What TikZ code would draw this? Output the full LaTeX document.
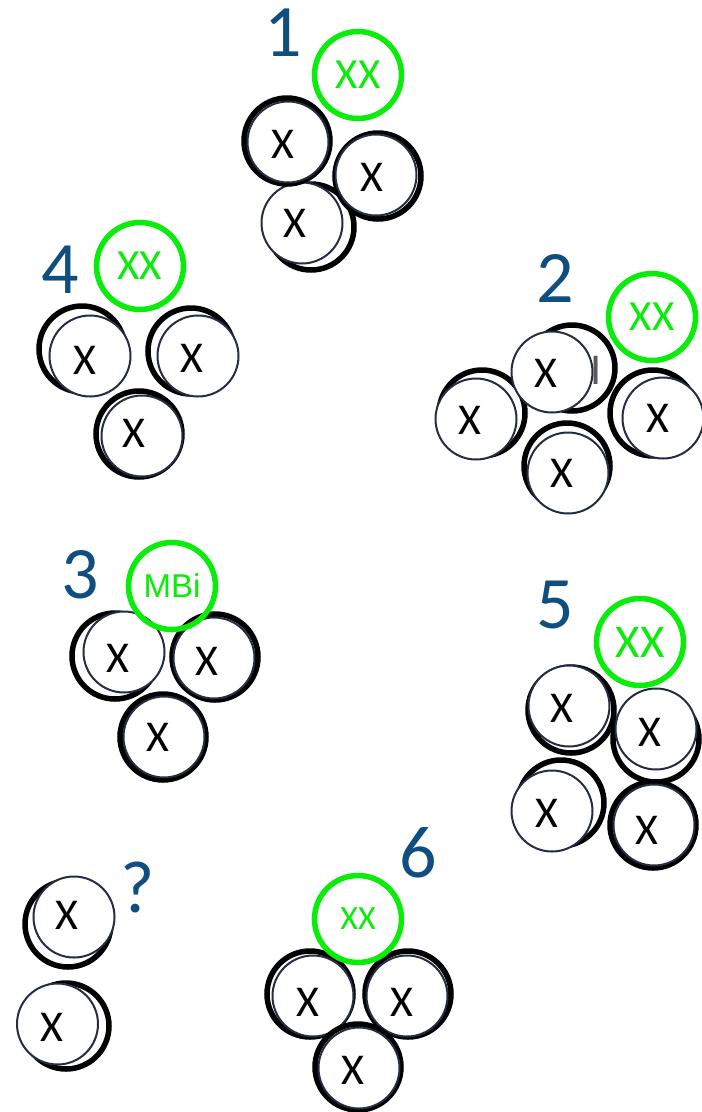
\documentclass[tikz,border=0pt]{standalone}
\usepackage{fontspec}
\setmainfont{Carlito}
\newfontfamily\mbifont{Liberation Sans}
\definecolor{labelblue}{RGB}{16,78,128}
\definecolor{rimnavy}{RGB}{38,44,66}
\definecolor{tokengreen}{RGB}{10,236,10}
\definecolor{grayink}{RGB}{90,90,90}
\tikzset{
  ring/.style={circle,draw=black,line width=5.5pt,minimum size=86pt,inner sep=0pt},
  face/.style={circle,draw=rimnavy,fill=white,line width=2pt,minimum size=81pt,inner sep=0pt},
  xtext/.style={inner sep=0pt,font=\fontsize{44}{44}\selectfont},
  token/.style={circle,draw=tokengreen,line width=5.5pt,minimum size=87pt,inner sep=0pt,
    text=tokengreen,font=\fontsize{43}{43}\selectfont},
  groupnum/.style={text=labelblue,inner sep=0pt,font=\fontsize{74}{74}\selectfont},
}
% one coin: black rim, white face with navy edge, letter X
% #1 name, #2 rim centre, #3 face centre, #4 letter position
\newcommand\drawcoin[4]{%
  \node[ring] (#1r) at (#2) {};
  \node[face] (#1f) at (#3) {};
  \node[xtext] (#1) at (#4) {X};
}
\begin{document}
\begin{tikzpicture}[x=1pt,y=-1pt]
\fill[white] (0,0) rectangle (702,1112);
\useasboundingbox (0,0) rectangle (702,1112);

% group 1
\node[groupnum] (n1) at (283,33) {1};
\drawcoin{ga3}{311,227}{302,223}{295,223}
\drawcoin{ga2}{378,176}{376,175}{372,177}
\drawcoin{ga1}{287,141}{288,142}{283,144}
\node[token] (ta) at (358,75) {XX};

% group 2
\node[groupnum] (n2) at (555,278) {2};
\drawcoin{gb1}{482,413}{476,419}{470,420}
\drawcoin{gb2}{567,466}{568,473}{562,473}
\drawcoin{gb3}{653,413}{663,418}{658,418}
\node[ring] (gb4r) at (572,368) {};
\node[text=grayink,inner sep=0pt,font=\fontsize{44}{44}\selectfont] (gbi) at (596,370) {I};
\node[face] (gb4f) at (552,372) {};
\node[xtext] (gb4) at (546,373) {X};
\node[token] (tb) at (652,317) {XX};

% group 4
\node[groupnum] (n4) at (60,270) {4};
\drawcoin{gd1}{82,349}{90,356}{85,360}
\drawcoin{gd2}{191,351}{198,356}{192,358}
\drawcoin{gd3}{139,434}{142,436}{134,433}
\node[token] (td) at (140,266) {XX};

% group 3
\node[groupnum] (n3) at (80,575) {3};
\drawcoin{gc1}{115,656}{124,652}{118,658}
\drawcoin{gc2}{215,657}{214,658}{207,661}
\drawcoin{gc3}{163,737}{164,737}{158,737}
\node[token,font=\mbifont\fontsize{33}{33}\selectfont] (tc) at (172,586) {MBi};

% group 5
\node[groupnum] (n5) at (555,605) {5};
\drawcoin{ge1}{571,710}{569,706}{562,708}
\drawcoin{ge2}{656,739}{656,729}{650,732}
\drawcoin{ge3}{561,803}{552,811}{547,813}
\drawcoin{ge4}{653,825}{654,825}{647,830}
\node[token,font=\fontsize{47}{47}\selectfont] (te) at (640,642) {XX};

% group 6
\node[groupnum] (n6) at (418,853) {6};
\drawcoin{gf1}{310,994}{313,996}{308,1002}
\drawcoin{gf2}{408,994}{407,996}{402,1002}
\drawcoin{gf3}{358,1067}{359,1068}{353,1070}
\node[token,font=\fontsize{34}{34}\selectfont] (tf) at (358,919) {XX};

% unnumbered pair
\node[groupnum] (nq) at (138,887) {?};
\drawcoin{gg1}{68,924}{74,917}{67,915}
\drawcoin{gg2}{66,1026}{57.5,1024}{52,1027}
\end{tikzpicture}
\end{document}
